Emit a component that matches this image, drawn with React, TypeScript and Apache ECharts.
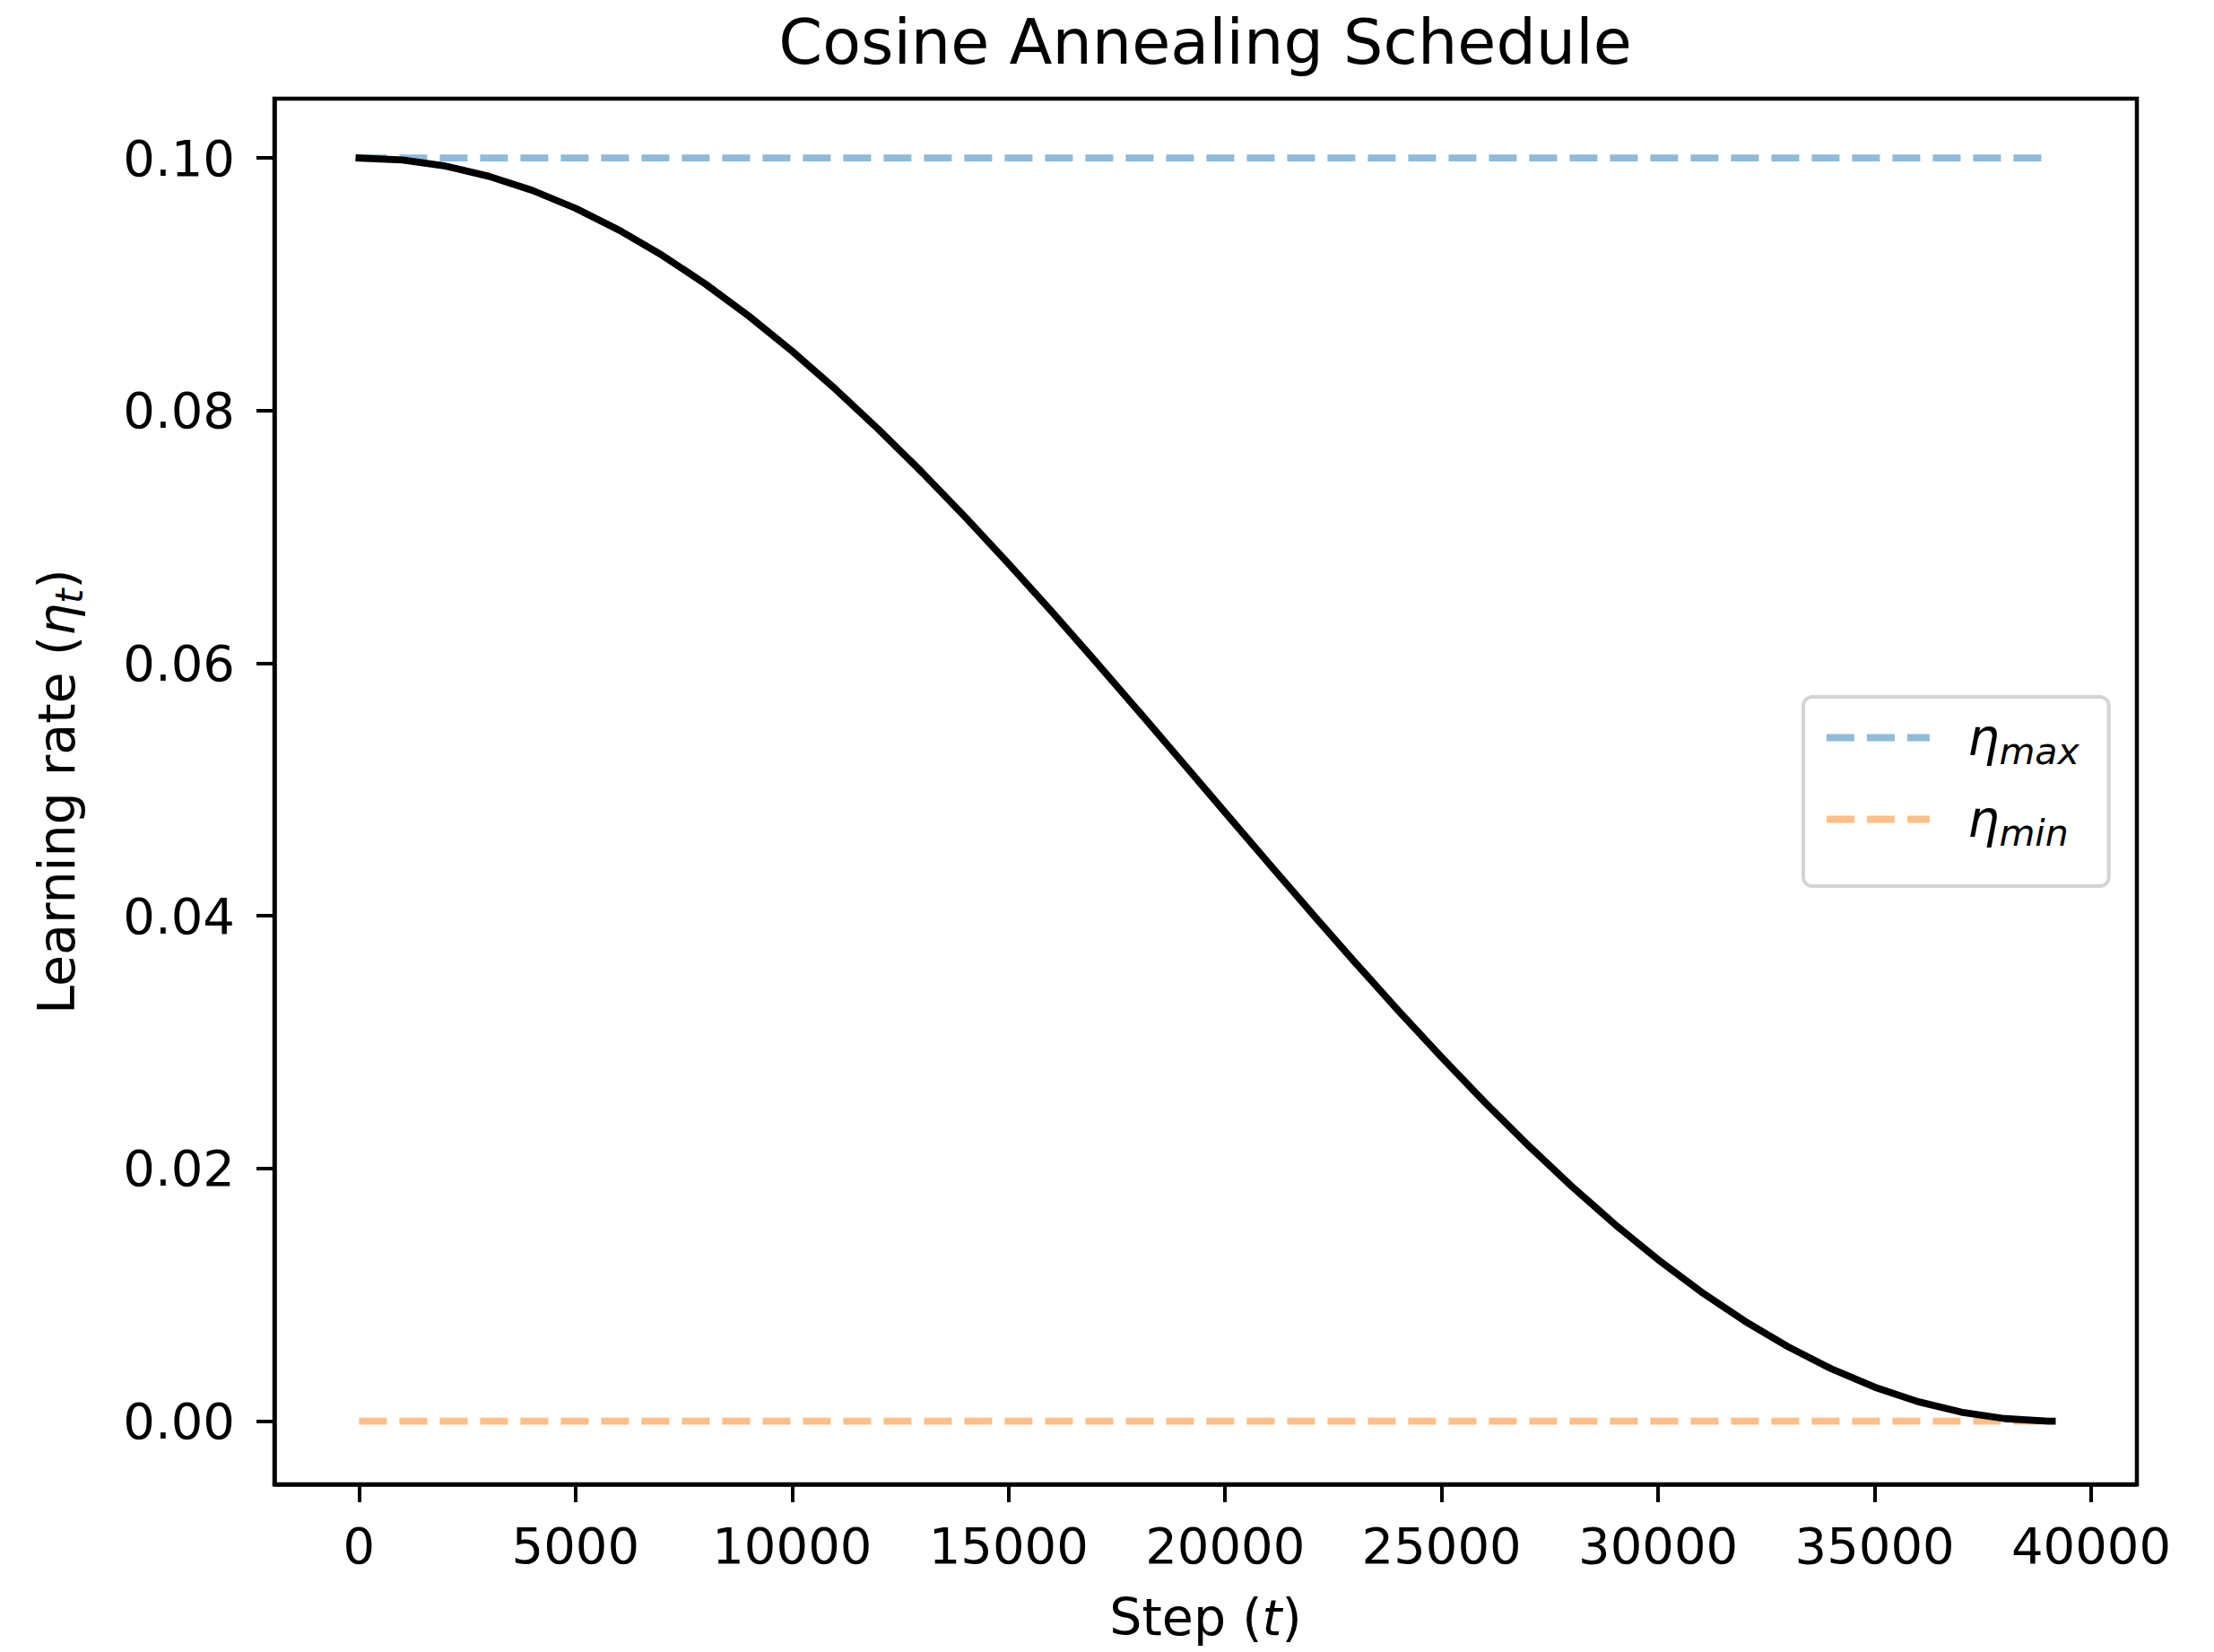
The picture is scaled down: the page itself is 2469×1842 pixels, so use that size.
import { useEffect, useRef } from "react";
import * as echarts from "echarts";

// Training steps at which the learning rate was logged
const STEPS = [
  0, 1000, 2000, 3000, 4000, 5000, 6000, 7000, 8000, 9000,
  10000, 11000, 12000, 13000, 14000, 15000, 16000, 17000, 18000, 19000,
  20000, 21000, 22000, 23000, 24000, 25000, 26000, 27000, 28000, 29000,
  30000, 31000, 32000, 33000, 34000, 35000, 36000, 37000, 38000, 39000, 39100,
];

// Learning rate at each logged step
const LR = [
  0.1, 0.09984, 0.09936, 0.09855, 0.09744, 0.09602, 0.0943, 0.0923, 0.09002, 0.08749,
  0.08471, 0.08171, 0.0785, 0.07512, 0.07157, 0.06787, 0.06407, 0.06017, 0.05621, 0.05221,
  0.04819, 0.04419, 0.04022, 0.03632, 0.0325, 0.0288, 0.02523, 0.02183, 0.0186, 0.01558,
  0.01278, 0.01022, 0.00792, 0.00589, 0.00414, 0.00269, 0.00154, 0.00071, 0.0002, 0.0, 0.0,
];

const ETA_MAX = 0.1;
const ETA_MIN = 0.0;
const RANGE_STEPS = [0, 39100];

const X_TICKS = [0, 5000, 10000, 15000, 20000, 25000, 30000, 35000, 40000];
const Y_TICKS = [0.0, 0.02, 0.04, 0.06, 0.08, 0.1];

const FONT = "DejaVu Sans";
const INK = "#000000";
const LINE_W = 7.8;
const DASH = [31, 14];

export default function App() {
  const ref = useRef<HTMLDivElement>(null);

  useEffect(() => {
    if (!ref.current) return;
    const chart = echarts.init(ref.current, null, { renderer: "svg" });

    const curve = STEPS.map((s, i) => [s, LR[i]]);
    const maxLine = RANGE_STEPS.map((s) => [s, ETA_MAX]);
    const minLine = RANGE_STEPS.map((s) => [s, ETA_MIN]);

    const labelRich = {
      n: { fontFamily: FONT, fontSize: 57, color: INK, lineHeight: 64 },
      e: { fontFamily: FONT, fontSize: 57, fontStyle: "italic", color: INK, lineHeight: 64 },
      i: { fontFamily: FONT, fontSize: 56, fontStyle: "italic", color: INK, lineHeight: 64 },
      s: {
        fontFamily: FONT,
        fontSize: 42,
        fontStyle: "italic",
        color: INK,
        lineHeight: 64,
        padding: [28, 0, 0, 0],
      },
    };

    chart.setOption({
      animation: false,
      backgroundColor: "#ffffff",
      title: {
        text: "Cosine Annealing Schedule",
        left: 1344,
        top: 12,
        padding: 0,
        textAlign: "center",
        textStyle: { fontFamily: FONT, fontSize: 70, fontWeight: "normal", color: INK },
      },
      grid: {
        left: 306,
        right: 86,
        top: 110,
        bottom: 187,
        show: true,
        borderColor: INK,
        borderWidth: 4.5,
        backgroundColor: "transparent",
      },
      legend: {
        orient: "vertical",
        left: 2011,
        top: 777,
        padding: [10, 33, 39, 22],
        itemGap: 20,
        itemWidth: 115,
        itemHeight: 14,
        backgroundColor: "rgba(255,255,255,0.8)",
        borderColor: "#d4d4d4",
        borderWidth: 4,
        borderRadius: 10,
        data: ["ηmax", "ηmin"],
        itemStyle: { opacity: 0 },
        lineStyle: { width: LINE_W },
        formatter: (name: string) => `{e|η}{s|${name.slice(1)}}`,
        textStyle: {
          rich: {
            e: {
              fontFamily: FONT,
              fontSize: 56,
              fontStyle: "italic",
              color: INK,
              lineHeight: 64,
              padding: [0, 0, 0, 37],
            },
            s: {
              fontFamily: FONT,
              fontSize: 41,
              fontStyle: "italic",
              color: INK,
              lineHeight: 64,
              padding: [30, 0, 0, 0],
            },
          },
        },
      },
      xAxis: {
        type: "value",
        min: -1955,
        max: 41055,
        name: "{n|Step (}{i|t}{n|)}",
        nameLocation: "middle",
        nameGap: 116,
        nameTextStyle: { rich: labelRich },
        splitLine: { show: false },
        axisLine: { show: true, onZero: false, lineStyle: { color: INK, width: 4.5 } },
        axisTick: {
          show: true,
          length: 20,
          inside: false,
          customValues: X_TICKS,
          lineStyle: { color: INK, width: 4 },
        },
        axisLabel: {
          customValues: X_TICKS,
          margin: 40,
          fontFamily: FONT,
          fontSize: 56,
          color: INK,
          formatter: (v: number) => String(v),
        },
      },
      yAxis: {
        type: "value",
        min: -0.005,
        max: 0.1047,
        name: "{n|Learning rate (}{e|η}{s|t}{n|)}",
        nameLocation: "middle",
        nameRotate: 90,
        nameGap: 211,
        nameTextStyle: { rich: labelRich },
        splitLine: { show: false },
        axisLine: { show: true, onZero: false, lineStyle: { color: INK, width: 4.5 } },
        axisTick: {
          show: true,
          length: 20,
          inside: false,
          customValues: Y_TICKS,
          lineStyle: { color: INK, width: 4 },
        },
        axisLabel: {
          customValues: Y_TICKS,
          margin: 44,
          fontFamily: FONT,
          fontSize: 56,
          color: INK,
          formatter: (v: number) => v.toFixed(2),
        },
      },
      series: [
        {
          name: "ηmax",
          type: "line",
          data: maxLine,
          showSymbol: false,
          symbol: "none",
          z: 2,
          lineStyle: { color: "rgba(31,119,180,0.5)", width: LINE_W, type: DASH, cap: "butt" },
          itemStyle: { color: "rgba(31,119,180,0.5)" },
        },
        {
          name: "ηmin",
          type: "line",
          data: minLine,
          showSymbol: false,
          symbol: "none",
          z: 2,
          lineStyle: { color: "rgba(255,127,14,0.5)", width: LINE_W, type: DASH, cap: "butt" },
          itemStyle: { color: "rgba(255,127,14,0.5)" },
        },
        {
          name: "lr",
          type: "line",
          data: curve,
          showSymbol: false,
          symbol: "none",
          z: 3,
          lineStyle: { color: INK, width: LINE_W, cap: "square", join: "round" },
          itemStyle: { color: INK },
        },
      ],
    });

    return () => chart.dispose();
  }, []);

  return (
    <div
      ref={ref}
      style={{ position: "fixed", left: 0, top: 0, width: 2469, height: 1842, background: "#fff" }}
    />
  );
}
